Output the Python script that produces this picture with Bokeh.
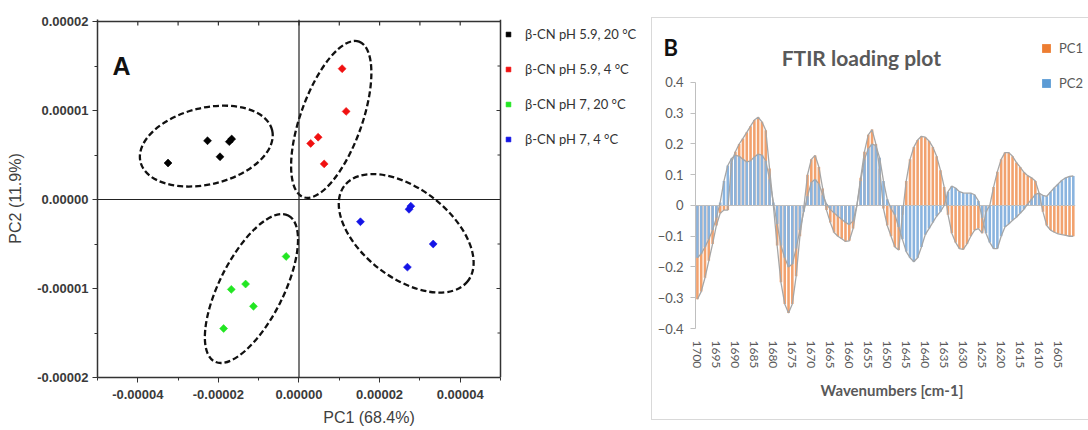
from bokeh.plotting import figure
from bokeh.layouts import row, column
from bokeh.models import (Range1d, FixedTicker, PrintfTickFormatter, Span, Spacer,
                          Legend, LegendItem, Label, BasicTickFormatter)
from bokeh.embed import file_html
from bokeh.resources import INLINE

# ---------------- Panel A data (PCA scores) ----------------
group_labels = ["β-CN pH 5.9, 20 °C", "β-CN pH 5.9, 4 °C", "β-CN pH 7, 20 °C", "β-CN pH 7, 4 °C"]
group_colors = ["#000000", "#F01010", "#22E622", "#1414E6"]

black_pc1 = [-3.25e-5, -2.27e-5, -1.96e-5, -1.73e-5, -1.67e-5]
black_pc2 = [4.1e-6, 6.6e-6, 4.8e-6, 6.5e-6, 6.8e-6]
red_pc1 = [1.07e-5, 1.17e-5, 2.9e-6, 4.75e-6, 6.25e-6]
red_pc2 = [1.47e-5, 9.9e-6, 6.3e-6, 7.0e-6, 4.0e-6]
green_pc1 = [-3.2e-6, -1.325e-5, -1.68e-5, -1.13e-5, -1.87e-5]
green_pc2 = [-6.4e-6, -9.5e-6, -1.01e-5, -1.2e-5, -1.45e-5]
blue_pc1 = [1.525e-5, 2.73e-5, 2.775e-5, 3.33e-5, 2.69e-5]
blue_pc2 = [-2.5e-6, -1.1e-6, -7.5e-7, -5.0e-6, -7.6e-6]

# confidence ellipses (centre, axes, angle in degrees)
ell_cx = [-2.3e-5, 8.0e-6, -1.18e-5, 2.66e-5]
ell_cy = [6.0e-6, 9.0e-6, -1.0e-5, -3.8e-6]
ell_w = [3.36e-5, 4.1e-5, 4.06e-5, 3.87e-5]
ell_h = [8.6e-6, 6.9e-6, 7.2e-6, 1.0e-5]
ell_angle = [13.5, 70.3, 63.3, -37.7]

pc1_min, pc1_max = -5e-5, 5e-5
pc2_min, pc2_max = -2e-5, 2e-5
x_ticks = [-4e-5, -2e-5, 0.0, 2e-5, 4e-5]
x_minor = [-5e-5, -3e-5, -1e-5, 1e-5, 3e-5, 5e-5]
y_ticks = [-2e-5, -1e-5, 0.0, 1e-5, 2e-5]
y_minor = [-1.5e-5, -5e-6, 5e-6, 1.5e-5]

# ---------------- Panel B data (FTIR loadings) ----------------
wavenumbers = list(range(1700, 1600, -1))
pc1_loading = [
    -0.305, -0.28, -0.235, -0.18, -0.125, -0.065, -0.025, -0.015, -0.015, 0.14,
    0.175, 0.2, 0.218, 0.238, 0.258, 0.278, 0.287, 0.272, 0.245, 0.12,
    0.0, -0.13, -0.25, -0.32, -0.35, -0.32, -0.23, -0.1, -0.01, 0.1,
    0.15, 0.163, 0.125, 0.055, -0.015, -0.055, -0.088, -0.1, -0.108, -0.117,
    -0.115, -0.075, 0.0, 0.09, 0.175, 0.23, 0.247, 0.2, 0.12, -0.01,
    -0.065, -0.1, -0.135, -0.145, -0.03, 0.08, 0.15, 0.19, 0.213, 0.225,
    0.222, 0.21, 0.19, 0.16, 0.115, 0.06, -0.03, -0.09, -0.12, -0.14,
    -0.143, -0.125, -0.1, -0.08, -0.075, -0.09, -0.02, 0.0, 0.06, 0.11,
    0.15, 0.172, 0.172, 0.16, 0.14, 0.125, 0.108, 0.097, 0.09, 0.08,
    0.04, -0.02, -0.065, -0.08, -0.087, -0.092, -0.095, -0.097, -0.1, -0.1,
]
pc2_loading = [
    -0.17, -0.157, -0.135, -0.11, -0.08, -0.04, 0.01, 0.08, 0.13, 0.153,
    0.164, 0.16, 0.15, 0.142, 0.145, 0.158, 0.167, 0.164, 0.145, 0.085,
    0.01, -0.06, -0.13, -0.17, -0.2, -0.19, -0.14, -0.08, -0.02, 0.03,
    0.075, 0.085, 0.07, 0.035, 0.005, -0.013, -0.024, -0.035, -0.045, -0.055,
    -0.062, -0.05, 0.0, 0.08, 0.15, 0.185, 0.2, 0.195, 0.155, 0.08,
    0.02, -0.01, -0.03, -0.07, -0.11, -0.15, -0.17, -0.183, -0.17, -0.135,
    -0.095, -0.075, -0.055, -0.035, -0.02, 0.0, 0.045, 0.063, 0.057, 0.045,
    0.041, 0.04, 0.04, 0.035, 0.015, -0.04, -0.09, -0.12, -0.14, -0.14,
    -0.1, -0.07, -0.06, -0.048, -0.038, -0.025, -0.012, 0.005, 0.02, 0.036,
    0.04, 0.033, 0.03, 0.044, 0.058, 0.07, 0.082, 0.09, 0.095, 0.096,
]
loading_ticks = [-0.4, -0.3, -0.2, -0.1, 0.0, 0.1, 0.2, 0.3, 0.4]
wavenumber_ticks = list(range(1700, 1600, -5))
wn_hi = wavenumbers[0] + 0.5
wn_lo = wavenumbers[-1] - 0.5

# ======================= Panel A =======================
# frame extends to the right so that the legend sits inside it
pa = figure(width=640, height=430, x_range=Range1d(pc1_min, 8.474e-5),
            y_range=Range1d(pc2_min, 2.0225e-5),
            output_backend="svg", toolbar_location=None,
            min_border_left=97, min_border_right=0, min_border_top=19, min_border_bottom=53)
pa.outline_line_color = None
pa.grid.visible = False

fmt = PrintfTickFormatter(format="%.5f")
for ax, tk, bnds in ((pa.xaxis[0], FixedTicker(ticks=x_ticks, minor_ticks=x_minor), (pc1_min, pc1_max)),
                     (pa.yaxis[0], FixedTicker(ticks=y_ticks, minor_ticks=y_minor), "auto")):
    ax.ticker = tk
    ax.formatter = fmt
    ax.bounds = bnds
    ax.axis_line_color = "#333333"
    ax.axis_line_width = 1.5
    ax.major_tick_line_color = "#333333"
    ax.minor_tick_line_color = "#333333"
    ax.major_tick_out = 5
    ax.major_tick_in = 0
    ax.minor_tick_out = 3
    ax.minor_tick_in = 0
    ax.major_label_text_font = "Liberation Sans"
    ax.major_label_text_font_size = "13px"
    ax.major_label_text_font_style = "bold"
    ax.major_label_text_color = "#3a3a3a"
    ax.axis_label_text_font = "Liberation Sans"
    ax.axis_label_text_font_size = "16px"
    ax.axis_label_text_font_style = "normal"
    ax.axis_label_text_color = "#404040"

pa.xaxis.major_label_standoff = 7
pa.xaxis.axis_label = "PC1 (68.4%)"
pa.xaxis.axis_label_standoff = 7
pa.yaxis.major_label_standoff = 4
pa.yaxis.axis_label = "PC2 (11.9%)"
pa.yaxis.axis_label_standoff = 10

# frame lines (top and right), their inward ticks, and zero lines
pa.segment(x0=[pc1_min], y0=[pc2_max], x1=[pc1_max], y1=[pc2_max], line_color="#333333", line_width=1.5)
pa.add_layout(Span(location=pc1_max, dimension="height", line_color="#333333", line_width=1.5))
top_ticks = sorted(x_ticks + [m for m in x_minor if pc1_min < m < pc1_max])
right_major = [t for t in y_ticks if pc2_min < t < pc2_max]
right_minor = [t for t in y_minor if pc2_min < t < pc2_max]
pa.ray(x=top_ticks, y=[pc2_max] * len(top_ticks), length=4, angle=-90, angle_units="deg",
       length_units="screen", line_color="#333333", line_width=1.2)
pa.ray(x=[pc1_max] * len(right_major), y=right_major, length=4, angle=180, angle_units="deg",
       length_units="screen", line_color="#333333", line_width=1.2)
pa.ray(x=[pc1_max] * len(right_minor), y=right_minor, length=3, angle=180, angle_units="deg",
       length_units="screen", line_color="#333333", line_width=1.2)
pa.add_layout(Span(location=0, dimension="height", line_color="#222222", line_width=1.2))
pa.segment(x0=[pc1_min], y0=[0], x1=[pc1_max], y1=[0], line_color="#222222", line_width=1.2)

pa.ellipse(x=ell_cx, y=ell_cy, width=ell_w, height=ell_h, angle=ell_angle, angle_units="deg",
           fill_color=None, line_color="#111111", line_width=2.3, line_dash="6 3")

groups = [(black_pc1, black_pc2), (red_pc1, red_pc2), (green_pc1, green_pc2), (blue_pc1, blue_pc2)]
items_a = []
for (gx, gy), col, lab in zip(groups, group_colors, group_labels):
    r = pa.scatter(gx, gy, marker="square", angle=45, angle_units="deg", size=5.6,
                   fill_color=col, line_color=col, line_width=0.6)
    items_a.append(LegendItem(label=lab, renderers=[r]))

leg_a = Legend(items=items_a, location=(405, 228), glyph_width=12, glyph_height=12,
               label_height=20, spacing=15, padding=0, margin=0, label_standoff=11,
               label_text_font="Lato", label_text_font_size="13px", label_text_color="#333333",
               border_line_color=None, background_fill_alpha=0)
pa.add_layout(leg_a, "center")

pa.add_layout(Label(x=-4.628e-5, y=1.5056e-5, text="A", text_font="Liberation Sans",
                    text_font_size="25px", text_font_style="bold", text_color="#111111",
                    text_baseline="alphabetic"))

# ======================= Panel B =======================
box_line = "linear-gradient(#D9D9D9, #D9D9D9)"
pb = figure(width=448, height=403, x_range=Range1d(wn_hi, 1597.0), y_range=Range1d(-0.4, 0.5691),
            output_backend="svg", toolbar_location=None,
            min_border_left=45, min_border_right=0, min_border_top=13, min_border_bottom=92,
            styles={"background-image": ", ".join([box_line] * 3),
                    "background-size": "1px 100%, calc(100% - 11px) 1px, calc(100% - 11px) 1px",
                    "background-position": "11px 0px, 11px 0px, 11px 100%",
                    "background-repeat": "no-repeat"})
pb.outline_line_color = None
pb.border_fill_color = None
pb.grid.visible = False

ya = pb.yaxis[0]
ya.ticker = FixedTicker(ticks=loading_ticks, minor_ticks=[])
ya.bounds = (loading_ticks[0], loading_ticks[-1])
ya.formatter = BasicTickFormatter()
ya.major_label_overrides = {0: "0"}
ya.axis_line_color = "#BFBFBF"
ya.major_tick_line_color = "#BFBFBF"
ya.major_tick_out = 5
ya.major_tick_in = 0
ya.major_label_standoff = 7
ya.major_label_text_font = "Lato"
ya.major_label_text_font_size = "13px"
ya.major_label_text_color = "#595959"

xa = pb.xaxis[0]
xa.ticker = FixedTicker(ticks=wavenumber_ticks, minor_ticks=[])
xa.bounds = (wn_lo, wn_hi)
xa.axis_line_color = None
xa.major_tick_line_color = None
xa.minor_tick_line_color = None
xa.major_tick_out = 0
xa.major_label_orientation = "vertical"
xa.major_label_standoff = 12
xa.major_label_text_font = "Lato"
xa.major_label_text_font_size = "12px"
xa.major_label_text_color = "#595959"
xa.axis_label = "Wavenumbers [cm-1]"
xa.axis_label_standoff = 10
xa.axis_label_text_font = "Lato"
xa.axis_label_text_font_size = "15px"
xa.axis_label_text_font_style = "bold"
xa.axis_label_text_color = "#595959"

pb.vbar(x=wavenumbers, top=pc1_loading, width=0.68, fill_color="#F2A26E", line_color=None)
pb.vbar(x=wavenumbers, top=pc2_loading, width=0.68, fill_color="#8AB4DF", line_color=None)
pb.segment(x0=[wn_hi], y0=[0], x1=[wn_lo], y1=[0], line_color="#BFBFBF", line_width=1.2)
pb.line(x=wavenumbers, y=pc1_loading, line_color="#A6A6A6", line_width=1.3)
pb.line(x=wavenumbers, y=pc2_loading, line_color="#A6A6A6", line_width=1.3)

# legend swatches (zero-size markers on the series, only their legend glyph shows)
k1 = pb.scatter(x=wavenumbers, y=pc1_loading, marker="square", size=0, fill_color="#ED7D31", line_color=None)
k2 = pb.scatter(x=wavenumbers, y=pc2_loading, marker="square", size=0, fill_color="#5B9BD5", line_color=None)
leg_b = Legend(items=[LegendItem(label="PC1", renderers=[k1]), LegendItem(label="PC2", renderers=[k2])],
               location=(340, 234), glyph_width=22, glyph_height=22, label_height=22,
               spacing=13, padding=0, margin=0, label_standoff=2,
               label_text_font="Lato", label_text_font_size="13px", label_text_color="#595959",
               border_line_color=None, background_fill_alpha=0)
pb.add_layout(leg_b, "center")

pb.add_layout(Label(x=1656.83, y=0.4813, text="FTIR loading plot", text_align="center",
                    text_baseline="alphabetic", text_font="Lato", text_font_size="21px",
                    text_font_style="bold", text_color="#595959"))
pb.add_layout(Label(x=23, y=281, x_units="screen", y_units="screen", text="B",
                    text_font="Lato", text_font_size="22px", text_font_style="bold",
                    text_color="#111111", text_baseline="alphabetic"), "left")

layout = row(pa, column(Spacer(width=448, height=17), pb, spacing=0), spacing=0)
open("out.html", "w").write(file_html(layout, INLINE))
